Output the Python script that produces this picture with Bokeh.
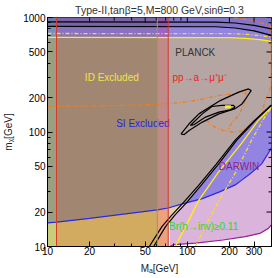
import math
from bokeh.plotting import figure
from bokeh.models import FixedTicker, Span, ColumnDataSource, BasicTickFormatter
from bokeh.embed import file_html
from bokeh.resources import INLINE
from bokeh.core.properties import value

TITLE = "Type-II,tanβ=5,M=800 GeV,sinθ=0.3"
X_LABEL = "Mₐ[GeV]"
Y_LABEL = "mᵪ[GeV]"
X_RANGE = (10, 400)
Y_RANGE = (10, 1000)
X_TICKS = [10, 20, 50, 100, 200, 300]
Y_TICKS = [10, 20, 50, 100, 200, 500, 1000]
X_MINOR = [30, 40, 60, 70, 80, 90, 400]
Y_MINOR = [30, 40, 60, 70, 80, 90, 300, 400, 600, 700, 800, 900]

# vertical exclusion strips (ID / collider)
STRIP_EDGES = [10, 11.6, 61, 73]
STRIP_TOP = ["#7a8cc4", "#8a72c2", "#9e64c4"]
STRIP_MID = ["#9b9e80", "#a18771", "#c08a88"]
STRIP_BOT = ["#c8cd7a", "#d2aa60", "#eca27a"]
RED_LINES = [11.6, 73]
GREEN_LINES = [61]

# SI (blue) bound
blue_x = [10, 11.6, 20, 40, 61, 73, 92, 128, 170, 220, 245, 280, 340, 390, 400]
blue_y = [16.1, 16.3, 17.6, 19.6, 20.9, 21.7, 23.6, 26.2, 30, 34.5, 38, 43, 52.7, 69, 73]
CROSS = (95, 23.8)

# DARWIN (magenta) bound
mag_x = [75, 80, 115, 180, 260, 330, 380, 400]
mag_y = [10, 10.4, 10.7, 11.4, 12.2, 13, 14.4, 15.5]

# relic density (black) contours
diagL_x = [53.5, 60, 66, 78, 92, 120, 160, 220, 300, 400]
diagL_y = [10, 12.5, 15, 19, 23.6, 34, 52, 85, 125, 172]
diagR_x = [57.5, 64, 70, 82, 97, 125, 166, 226, 305, 400]
diagR_y = [10, 12.5, 15, 19, 23.6, 34, 52, 85, 125, 172]
topA_x = [10, 160, 220, 300, 400]
topA_y = [915, 912, 895, 855, 796]
topB_x = [10, 160, 220, 300, 400]
topB_y = [835, 830, 810, 765, 697]

# PLANCK upper bound (yellow solid) and yellow dash-dot
T_x = [10, 200, 260, 330, 400]
T_y = [670, 668, 658, 640, 617]
ydd_top_x = [10, 200, 270, 330, 400]
ydd_top_y = [725, 722, 712, 695, 673]
ydiag_x = [82, 100, 121, 168, 245, 320, 400]
ydiag_y = [10, 16, 25.4, 45, 80, 125, 165]
ydd_diag_x = [114, 159, 220, 289, 359, 400]
ydd_diag_y = [10, 22.3, 43.7, 85.5, 136, 165]

# island contours
isl_out_x = [90, 103, 121, 172, 233, 274, 286, 266, 246, 220, 168, 128, 103, 95, 90]
isl_out_y = [96, 118, 144, 188, 223, 238, 230, 201, 176, 160, 144, 122, 103, 95, 96]
isl_in_x = [105, 128, 150, 177, 214, 220, 203, 168, 135, 112, 105]
isl_in_y = [114, 144, 167, 171, 171, 165, 156, 149, 135, 116, 114]
blob_x = [186, 205]
blob_y = [166, 166]

# orange dash-dot (pp -> a -> mu mu)
orA_x = [10, 30, 60, 97, 168, 259, 266, 252, 233, 211, 195]
orA_y = [167, 170, 174, 182, 208, 223, 208, 170, 139, 124, 105]
orB_x = [215, 245, 300, 360, 395, 398, 398, 380, 362, 340, 290, 245, 210, 177, 150, 135]
orB_y = [1000, 975, 930, 880, 840, 480, 260, 215, 194, 144, 118, 102, 100, 104, 114, 130]

# region labels
lab_text = ["PLANCK", "ID Excluded", "pp→a→μ⁺μ⁻", "SI Excluded", "DARWIN", "Br(h→inv)≥0.11"]
lab_x = [82, 18.5, 78.3, 31, 168, 74]
lab_y = [497, 297, 297, 118, 50, 15]
lab_color = ["#333333", "#f2e24a", "#f02020", "#2323e6", "#8e1e8e", "#2ada2a"]

C_PINK = "#dab4da"
C_PURPLE = "#9484e2"
C_GREY = "#b5a6a3"
C_BEIGE = "#e8cea8"
FONT = "Liberation Sans"

p = figure(width=274, height=278, x_axis_type="log", y_axis_type="log",
           x_range=X_RANGE, y_range=Y_RANGE, output_backend="svg",
           toolbar_location=None, min_border_left=44, min_border_right=3,
           min_border_top=17, min_border_bottom=32, title=TITLE)
p.title.text_font = FONT
p.title.text_font_size = "10.5px"
p.title.text_font_style = "normal"
p.title.text_color = "#333333"
p.title.align = "center"
p.title.standoff = 3
p.title.offset = 0
p.grid.visible = False
p.outline_line_color = "black"
p.background_fill_color = "white"
p.border_fill_color = "white"

x0, x1 = X_RANGE
y0, y1 = Y_RANGE

# DARWIN pink
p.patch(mag_x + [x1, mag_x[0]], mag_y + [y1, y1], fill_color=C_PINK, line_color=None)
# SI purple
p.patch(blue_x + [x1, x0], blue_y + [y1, y1], fill_color=C_PURPLE, line_color=None)
# PLANCK grey
p.patch(T_x + diagR_x[::-1] + [x0], T_y + diagR_y[::-1] + [y0], fill_color=C_GREY, line_color=None)
# PLANCK below SI bound
bx = [x for x in blue_x if x < CROSS[0]]
by = blue_y[:len(bx)]
dx = [x for x, y in zip(diagR_x, diagR_y) if y < CROSS[1]]
dy = [y for y in diagR_y if y < CROSS[1]]
p.patch([x0] + dx + [CROSS[0]] + bx[::-1], [y0] + dy + [CROSS[1]] + by[::-1],
        fill_color=C_BEIGE, line_color=None)

# vertical strips
for i in range(3):
    xa, xb = STRIP_EDGES[i], STRIP_EDGES[i + 1]
    p.quad(left=[xa], right=[xb], bottom=[y0], top=[y1], fill_color=STRIP_TOP[i], line_color=None)
    sx = [x for x in blue_x if xa <= x <= xb]
    sy = [y for x, y in zip(blue_x, blue_y) if xa <= x <= xb]
    p.patch(sx + [xb, xa], sy + [T_y[0], T_y[0]], fill_color=STRIP_MID[i], line_color=None)
    p.patch(sx + [xb, xa], sy + [y0, y0], fill_color=STRIP_BOT[i], line_color=None)

# darker band above relic contour
p.patch(topB_x + [x1, x0], topB_y + [y1, y1], fill_color="black", fill_alpha=0.12, line_color=None)

# lines
for v in RED_LINES:
    p.add_layout(Span(location=v, dimension="height", line_color="#d83a2a", line_width=1))
for v in GREEN_LINES:
    p.add_layout(Span(location=v, dimension="height", line_color="#8ea648", line_width=1))
p.line(blue_x, blue_y, line_color="#2a2ae0", line_width=1.2)
p.line(mag_x, mag_y, line_color="#961e96", line_width=1.2)

p.line(T_x, T_y, line_color="#fff200", line_width=1.3)
p.line(ydd_top_x, ydd_top_y, line_color="#f2e030", line_width=1.3, line_dash="4 2 1 2")
p.line(ydiag_x, ydiag_y, line_color="#fff200", line_width=1.3)
p.line(ydd_diag_x, ydd_diag_y, line_color="#f2e030", line_width=1.3, line_dash="4 2 1 2")

p.line(orA_x, orA_y, line_color="#f07c1e", line_width=1.3, line_dash="4 2 1 2")
p.line(orB_x, orB_y, line_color="#f07c1e", line_width=1.3, line_dash="4 2 1 2")

for xs, ys in [(diagL_x, diagL_y), (diagR_x, diagR_y), (topA_x, topA_y), (topB_x, topB_y),
               (isl_out_x, isl_out_y), (isl_in_x, isl_in_y)]:
    p.line(xs, ys, line_color="black", line_width=1.2)
p.line(blob_x, blob_y, line_color="#fff200", line_width=3)

src = ColumnDataSource(dict(x=lab_x, y=lab_y, t=lab_text, c=lab_color))
p.text("x", "y", text="t", source=src, text_color="c", text_font=value(FONT),
       text_font_size="10px", text_align="left", text_baseline="middle")

# frame ticks on top and right edges (half of each dash lies inside the frame)
p.scatter(X_TICKS, [y1] * len(X_TICKS), marker="dash", size=10, angle=math.pi / 2,
          line_color="black", line_width=1)
p.scatter(X_MINOR, [y1] * len(X_MINOR), marker="dash", size=6, angle=math.pi / 2,
          line_color="black", line_width=1)
p.scatter([x1] * len(Y_TICKS), Y_TICKS, marker="dash", size=10, line_color="black", line_width=1)
p.scatter([x1] * len(Y_MINOR), Y_MINOR, marker="dash", size=6, line_color="black", line_width=1)

# axes
for ax, ticks, minor in [(p.xaxis[0], X_TICKS, X_MINOR), (p.yaxis[0], Y_TICKS, Y_MINOR)]:
    ax.ticker = FixedTicker(ticks=ticks, minor_ticks=minor)
    ax.formatter = BasicTickFormatter()
    ax.major_tick_in = 5
    ax.major_tick_out = 0
    ax.minor_tick_in = 3
    ax.minor_tick_out = 0
    ax.axis_line_color = "black"
    ax.major_tick_line_color = "black"
    ax.minor_tick_line_color = "black"
    ax.major_label_text_font = FONT
    ax.major_label_text_color = "black"
    ax.major_label_text_font_size = "10px"
    ax.axis_label_text_font = FONT
    ax.axis_label_text_font_size = "10px"
    ax.axis_label_text_font_style = "normal"
    ax.axis_label_text_color = "#222222"
p.xaxis[0].major_label_standoff = 0
p.yaxis[0].major_label_standoff = 2
p.xaxis[0].axis_label = X_LABEL
p.yaxis[0].axis_label = Y_LABEL
p.xaxis[0].axis_label_standoff = 5
p.yaxis[0].axis_label_standoff = 6

open("out.html", "w").write(file_html(p, INLINE))
